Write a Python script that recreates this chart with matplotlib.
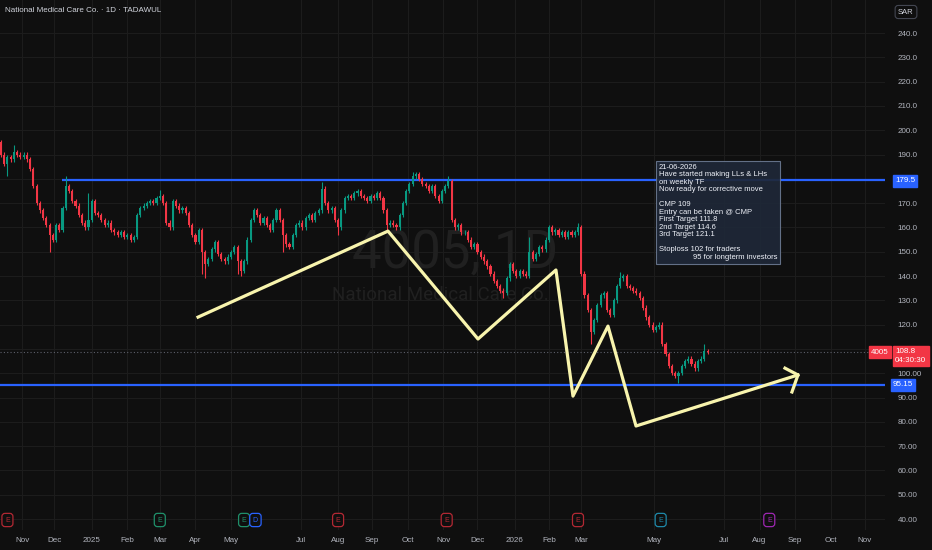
import numpy as np
import matplotlib.pyplot as plt
from matplotlib.transforms import blended_transform_factory

plt.rcParams['font.family'] = ['Liberation Sans', 'DejaVu Sans']

# ---- data (one candle = two sessions) ----
closes = [
    195, 190, 186, 189, 188, 191, 190, 189, 190, 188,
    184, 177, 170, 167, 164, 161, 157, 155, 161, 159,
    168, 177, 175, 171, 169, 165, 162, 160, 163, 171,
    166, 165, 163, 161, 162, 159, 158, 157, 158, 156,
    157, 155, 156, 165, 168, 169, 170, 171, 170, 172,
    173, 170, 162, 160, 171, 169, 167, 168, 166, 161,
    157, 154, 159, 150, 145, 147, 151, 154, 149, 147,
    146, 148, 150, 152, 146, 142, 146, 155, 163, 167,
    165, 162, 164, 161, 159, 163, 167, 163, 157, 153,
    152, 157, 161, 162, 160, 164, 165, 163, 166, 167,
    176, 170, 167, 168, 163, 160, 167, 172, 173, 172,
    174, 175, 173, 172, 171, 173, 172, 174, 172,
    167, 161, 162, 161, 160, 165, 170, 175, 178, 181,
    182, 180, 178, 177, 175, 177, 173, 171, 175, 177,
    179, 163, 160, 161, 158, 158, 155, 152, 153, 150,
    148, 146, 144, 141, 138, 136, 134, 133, 139, 145,
    142, 140, 142, 141, 140, 150, 147, 149, 152, 151,
    155, 160, 158, 159, 157, 158, 156, 158, 157, 158,
    160, 141, 132, 126, 117, 122, 128, 132, 133, 126,
    124, 130, 136, 139, 140, 136, 135, 134, 133, 131,
    127, 123, 120, 118, 119, 120, 112, 108, 103, 100,
    99, 100, 103, 105, 106, 104, 102, 105, 106, 109, 108.8,
]
first_open = 197.0
wick_hi = {5: 194, 21: 181, 28: 174, 50: 175.5, 100: 178.5, 128: 183,
           129: 183, 139: 181, 164: 156, 179: 162, 192: 141.6, 218: 112}
wick_lo = {3: 181, 16: 150, 63: 141, 64: 139, 74: 141, 75: 140, 88: 150,
           105: 157, 120: 159, 156: 131, 183: 112, 210: 96}

res_level = 179.5
sup_level = 95.15
last_price = 108.8

# hand drawn zigzag (session index, price)
zigzag_t = [123.6, 240.8, 296.3, 344.4, 354.9, 376.5, 393.8, 493.7]
zigzag_p = [123.1, 158.5, 114.1, 142.5, 90.6, 119.4, 78.3, 99.3]
arrow_t = [485.7, 493.7, 490.0]
arrow_p = [102.1, 99.3, 92.3]

month_dates = ['2024-11-01', '2024-12-01', '2025-01-01', '2025-02-01', '2025-03-01',
               '2025-04-01', '2025-05-01', '2025-07-01', '2025-08-01', '2025-09-01',
               '2025-10-01', '2025-11-01', '2025-12-01', '2026-01-01', '2026-02-01',
               '2026-03-01', '2026-05-01', '2026-07-01', '2026-08-01', '2026-09-01',
               '2026-10-01', '2026-11-01']
month_labels = ['Nov', 'Dec', '2025', 'Feb', 'Mar', 'Apr', 'May', 'Jul', 'Aug', 'Sep',
                'Oct', 'Nov', 'Dec', '2026', 'Feb', 'Mar', 'May', 'Jul', 'Aug', 'Sep',
                'Oct', 'Nov']

price_ticks = list(range(40, 250, 10))
hidden_ticks = [110, 180]  # covered by the price badges

event_dates = ['2024-10-21', '2025-03-02', '2025-05-13', '2025-05-22', '2025-08-03',
               '2025-11-04', '2026-02-25', '2026-05-07', '2026-08-10']
event_kind = ['E', 'E', 'E', 'D', 'E', 'E', 'E', 'E', 'E']
event_color = ['#b22833', '#1f8f6a', '#1f8f6a', '#2962ff', '#b22833',
               '#b22833', '#b22833', '#1e88a8', '#9c27b0']

note = ("21-06-2026\nHave started making LLs & LHs\non weekly TF\n"
        "Now ready for corrective move\n\nCMP 109\nEntry can be taken @ CMP\n"
        "First Target 111.8\n2nd Target 114.6\n3rd Target 121.1\n\n"
        "Stoploss 102 for traders\n                95 for longterm investors")

# ---- helpers ----
t0 = '2024-10-13'
wk = '1111001'  # Tadawul: Sun-Thu


def sess(d):
    return np.busday_count(t0, d, weekmask=wk)


bg = '#0f0f0f'
grid_c = '#1c1c1c'
up_c = '#089981'
dn_c = '#f23645'
blue = '#2962ff'
txt_c = '#b2b5be'

closes = np.array(closes, dtype=float)
opens = np.concatenate(([first_open], closes[:-1]))
tpos = np.arange(len(closes)) * 2
highs = np.maximum(opens, closes) + 0.9
lows = np.minimum(opens, closes) - 0.9
for k, v in wick_hi.items():
    highs[k] = v
for k, v in wick_lo.items():
    lows[k] = v
cols = np.where(closes >= opens, up_c, dn_c)

fig = plt.figure(figsize=(9.32, 5.5), dpi=100, facecolor=bg)
ax = fig.add_axes([0, 20 / 550, 885 / 932, 530 / 550])
ax.set_facecolor(bg)
ax.set_xlim(1.42, 547.4)
ax.set_ylim(35.5, 253.6)

month_t = [sess(d) for d in month_dates]
for y in price_ticks:
    ax.axhline(y, color=grid_c, lw=0.8, zorder=0)
for t in month_t:
    ax.axvline(t, color=grid_c, lw=0.8, zorder=0)

# watermark
ax.text(455 / 932, 1 - 268 / 550, '4005, 1D', transform=fig.transFigure, ha='center',
        va='baseline', fontsize=38, family='Roboto', color='#202020', zorder=0.5)
ax.text(440 / 932, 1 - 300 / 550, 'National Medical Care Co.', transform=fig.transFigure,
        ha='center', va='baseline', fontsize=13.5, family='Roboto', color='#202020', zorder=0.5)

# levels
ax.hlines(res_level, 39.7, 547.4, color=blue, lw=1.6, zorder=1.5)
ax.axhline(sup_level, color=blue, lw=1.6, zorder=1.5)
ax.axhline(last_price, color='#5d606b', lw=0.8, ls=(0, (1, 2)), zorder=1.4)

# candles
ax.vlines(tpos, lows, highs, colors=cols, lw=0.8, zorder=2)
body = np.maximum(np.abs(closes - opens), 0.3)
ax.bar(tpos, body, bottom=np.minimum(opens, closes), width=1.3, color=cols, zorder=2.1)

# zigzag drawing
ax.plot(zigzag_t, zigzag_p, color='#f8f4ad', lw=2.3, zorder=3)
ax.plot(arrow_t, arrow_p, color='#f8f4ad', lw=2.3, zorder=3)

# axes
for s in ax.spines.values():
    s.set_visible(False)
ax.yaxis.tick_right()
ax.set_yticks(price_ticks)
ax.set_yticklabels(['' if v in hidden_ticks else ('%.2f' % v if v < 110 else '%.1f' % v)
                    for v in price_ticks])
ax.tick_params(axis='y', length=0, pad=9, labelsize=5.8, labelcolor=txt_c)
ax.set_xticks(month_t)
ax.set_xticklabels(month_labels)
ax.tick_params(axis='x', length=0, pad=5, labelsize=5.8, labelcolor=txt_c)

# events row
tr = blended_transform_factory(ax.transData, fig.transFigure)
for d, k, c in zip(event_dates, event_kind, event_color):
    ax.text(sess(d), 1 - 520 / 550, k, transform=tr, ha='center', va='center',
            fontsize=5, color=c, clip_on=False, zorder=5,
            bbox=dict(boxstyle='round,pad=0.45', fc=bg, ec=c, lw=0.9))

# title and note
fig.text(5 / 932, 1 - 11 / 550, 'National Medical Care Co. · 1D · TADAWUL',
         fontsize=5.8, color='#d1d4dc', va='center')
fig.text(659 / 932, 1 - 164 / 550, note, fontsize=5.5, color='#f0f3fa', va='top',
         ha='left', linespacing=1.1,
         bbox=dict(boxstyle='square,pad=0.35', fc='#1f2838', ec='#6a7891', lw=0.8, alpha=0.92))

# price scale badges
fig.text(906 / 932, 1 - 12 / 550, 'SAR', fontsize=5.5, color='#d1d4dc', ha='center', va='center',
         bbox=dict(boxstyle='round,pad=0.4', fc=bg, ec='#434651', lw=0.8))
fig.text(905 / 932, 1 - 181 / 550, '%.1f' % res_level, fontsize=5.8, color='white', ha='center',
         va='center', bbox=dict(boxstyle='square,pad=0.25', fc=blue, ec=blue))
fig.text(903 / 932, 1 - 385 / 550, '%.2f' % sup_level, fontsize=5.8, color='white', ha='center',
         va='center', bbox=dict(boxstyle='square,pad=0.25', fc=blue, ec=blue))
fig.text(880 / 932, 1 - 352 / 550, '4005', fontsize=5.8, color='white', ha='center',
         va='center', bbox=dict(boxstyle='square,pad=0.25', fc=dn_c, ec=dn_c))
fig.text(895 / 932, 1 - 356 / 550, '%.1f\n04:30:30' % last_price, fontsize=5.8, color='white',
         ha='left', va='center', linespacing=1.25,
         bbox=dict(boxstyle='square,pad=0.3', fc=dn_c, ec=dn_c))

fig.savefig('out.png', dpi=100, facecolor=bg)
